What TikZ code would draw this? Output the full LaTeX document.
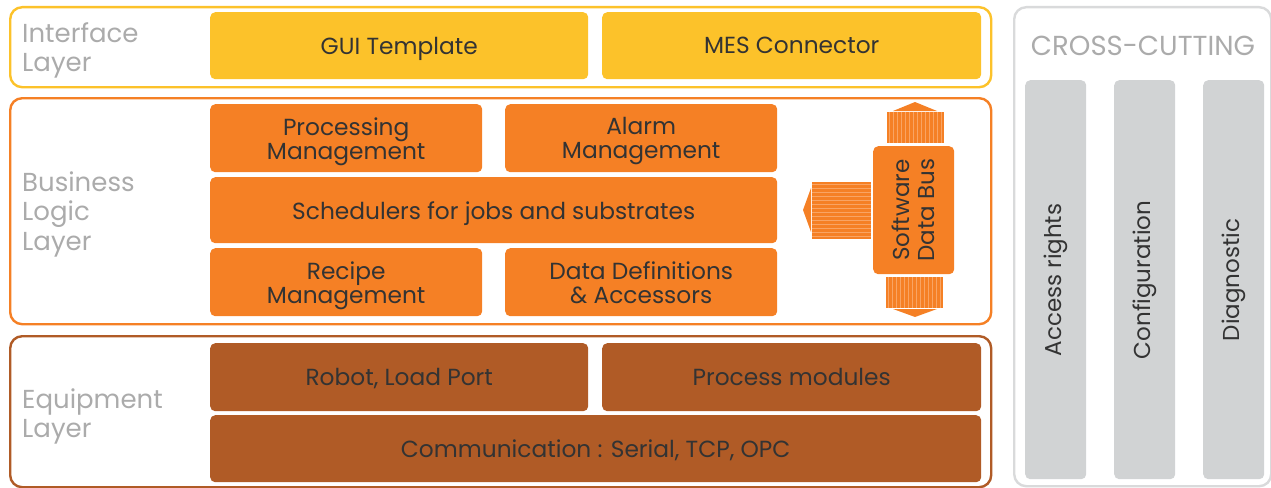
\documentclass[tikz,border=0pt]{standalone}
\usepackage{fontspec}
\setmainfont{Poppins}
\definecolor{yel}{HTML}{FCC22A}
\definecolor{org}{HTML}{F58025}
\definecolor{orgl}{HTML}{F9A463}
\definecolor{brn}{HTML}{B05B26}
\definecolor{gry}{HTML}{D1D3D4}
\definecolor{gryb}{HTML}{D9DADB}
\definecolor{txt}{HTML}{333333}
\definecolor{lbl}{HTML}{ABABAB}
\begin{document}
\begin{tikzpicture}[x=1pt,y=-1pt,
  layer/.style={draw, line width=2.4pt, rounded corners=12pt, inner sep=0, anchor=north west},
  blk/.style={rounded corners=5pt, inner sep=0, align=center, text=txt, font=\fontsize{23.3}{24}\selectfont, text depth=0pt, anchor=north west},
  lay/.style={align=left, anchor=west, text=lbl, font=\fontsize{26}{29.5}\selectfont, text depth=0pt, inner sep=0},
  col/.style={fill=gry, rounded corners=5pt, inner sep=0, anchor=north west},
  coltxt/.style={rotate=90, text=txt, font=\fontsize{23}{25}\selectfont, inner sep=0},
  stripe/.style={orgl, line width=1.4pt},
  head/.style={fill=org}
]
\useasboundingbox (0,0) rectangle (1271,487);
% layer frames
\node[layer, draw=yel, minimum width=981, minimum height=80] (ifl) at (9,6) {};
\node[layer, draw=org, minimum width=981, minimum height=226] (bll) at (9,97) {};
\node[layer, draw=brn, minimum width=981, minimum height=151] (eql) at (9,335) {};
\node[layer, draw=gryb, minimum width=257, minimum height=479] (ccl) at (1013,6) {};
% layer labels
\node[lay] (iflt) at (22,47) {Interface\\Layer};
\node[lay] (bllt) at (22,211) {Business\\Logic\\Layer};
\node[lay] (eqlt) at (22,413) {Equipment\\Layer};
\node[text=lbl, font=\fontsize{27.5}{30}\selectfont, inner sep=0, text depth=0pt] (cct) at (1143,46) {CROSS-CUTTING};
% interface
\node[blk, fill=yel, minimum width=378, minimum height=67] (gui) at (210,12) {GUI Template};
\node[blk, fill=yel, minimum width=379, minimum height=67] (mes) at (602,12) {MES Connector};
% business logic
\node[blk, fill=org, minimum width=272, minimum height=68] (proc) at (210,104) {Processing\\Management};
\node[blk, fill=org, minimum width=272, minimum height=68] (alarm) at (505,104) {Alarm\\Management};
\node[blk, fill=org, minimum width=567, minimum height=66] (sched) at (210,177) {Schedulers for jobs and substrates};
\node[blk, fill=org, minimum width=272, minimum height=68] (recipe) at (210,248) {Recipe\\Management};
\node[blk, fill=org, minimum width=272, minimum height=68] (data) at (505,248) {Data Definitions\\\& Accessors};
% data bus
\node[blk, fill=org, minimum width=81, minimum height=128] (bus) at (873,146) {};
\node[coltxt, align=center] (bust) at (bus.center) {Software\\Data Bus};
% top arrow
\fill[org] (887,112) rectangle (944,143);
\foreach \i in {0,...,13} \draw[stripe] ({889.5+\i*4},112) -- ({889.5+\i*4},143);
\fill[head] (893,111) -- (915,102) -- (937,111) -- cycle;
% bottom arrow
\fill[org] (886,277) rectangle (943,308);
\foreach \i in {0,...,13} \draw[stripe] ({888.5+\i*4},277) -- ({888.5+\i*4},308);
\fill[head] (893,309) -- (915,317) -- (937,309) -- cycle;
% left arrow
\fill[org] (812,182) rectangle (871,239);
\foreach \i in {0,...,13} \draw[stripe] (812,{184.5+\i*4}) -- (871,{184.5+\i*4});
\fill[head] (811,188) -- (803,210) -- (811,232) -- cycle;
% equipment
\node[blk, fill=brn, minimum width=378, minimum height=68] (robot) at (210,343) {Robot, Load Port};
\node[blk, fill=brn, minimum width=379, minimum height=68] (pm) at (602,343) {Process modules};
\node[blk, fill=brn, minimum width=771, minimum height=67] (comm) at (210,415) {Communication : Serial, TCP, OPC};
% cross cutting columns
\node[col, minimum width=61, minimum height=399] (acc) at (1025,80) {};
\node[col, minimum width=61, minimum height=399] (cfg) at (1114,80) {};
\node[col, minimum width=61, minimum height=399] (diag) at (1203,80) {};
\node[coltxt] (acct) at (1055.5,280) {Access rights};
\node[coltxt] (cfgt) at (1144.5,280) {Configuration};
\node[coltxt] (diagt) at (1233.5,280) {Diagnostic};
\end{tikzpicture}
\end{document}
